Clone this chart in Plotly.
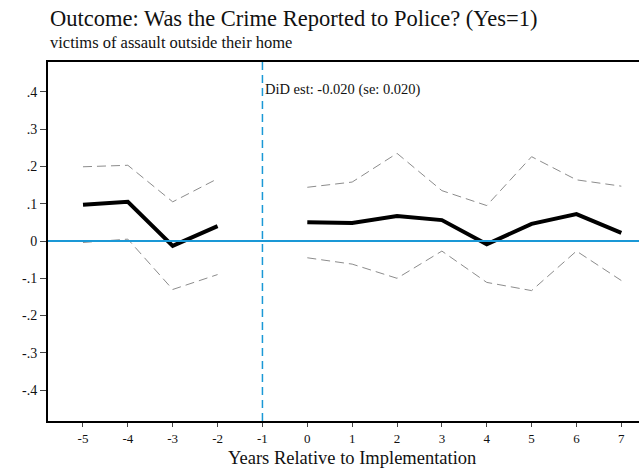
import plotly.graph_objects as go

years = [-5, -4, -3, -2, -1, 0, 1, 2, 3, 4, 5, 6, 7]
estimate = [0.097, 0.105, -0.013, 0.040, None, 0.050, 0.048, 0.067, 0.056, -0.009, 0.046, 0.072, 0.022]
ci_upper = [0.199, 0.203, 0.105, 0.167, None, 0.144, 0.158, 0.235, 0.135, 0.095, 0.226, 0.164, 0.147]
ci_lower = [-0.004, 0.005, -0.130, -0.090, None, -0.045, -0.062, -0.100, -0.027, -0.111, -0.133, -0.027, -0.106]

y_ticks = [-0.4, -0.3, -0.2, -0.1, 0, 0.1, 0.2, 0.3, 0.4]
y_tick_labels = ["-.4", "-.3", "-.2", "-.1", "0", ".1", ".2", ".3", ".4"]
x_ticks = years
x_tick_labels = [str(v) for v in years]

title_text = "Outcome: Was the Crime Reported to Police? (Yes=1)"
subtitle_text = "victims of assault outside their home"
did_text = "DiD est: -0.020 (se: 0.020)"
x_title = "Years Relative to Implementation"

FONT = "Liberation Serif, DejaVu Serif, serif"

fig = go.Figure()

fig.add_trace(go.Scatter(x=years, y=ci_upper, mode="lines",
                         line=dict(color="#8c8c8c", width=1, dash="9px,5px"),
                         connectgaps=False, showlegend=False, hoverinfo="skip"))
fig.add_trace(go.Scatter(x=years, y=ci_lower, mode="lines",
                         line=dict(color="#8c8c8c", width=1, dash="9px,5px"),
                         connectgaps=False, showlegend=False, hoverinfo="skip"))

# reference lines
fig.add_shape(type="line", xref="paper", yref="y", x0=0, x1=1, y0=0, y1=0,
              line=dict(color="#1a98d6", width=2.2), layer="above")
fig.add_shape(type="line", xref="x", yref="paper", x0=-1, x1=-1, y0=0, y1=1,
              line=dict(color="#1a98d6", width=1.5, dash="8px,5px"), layer="above")

fig.add_trace(go.Scatter(x=years, y=estimate, mode="lines",
                         line=dict(color="black", width=4),
                         connectgaps=False, showlegend=False))

fig.add_annotation(x=-0.985, y=0.405, xref="x", yref="y", text=did_text,
                   showarrow=False, xanchor="left", yanchor="middle",
                   font=dict(family=FONT, size=14.5, color="#111"))

fig.add_annotation(x=0.0, y=1.122, xref="paper", yref="paper", text=title_text,
                   showarrow=False, xanchor="left", yanchor="middle",
                   font=dict(family=FONT, size=22.5, color="#111"))
fig.add_annotation(x=0.0, y=1.054, xref="paper", yref="paper", text=subtitle_text,
                   showarrow=False, xanchor="left", yanchor="middle",
                   font=dict(family=FONT, size=16.5, color="#111"))
fig.add_annotation(x=1, y=-0.1031, xref="x", yref="paper", text=x_title,
                   showarrow=False, xanchor="center", yanchor="middle",
                   font=dict(family=FONT, size=18.5, color="#111"))

fig.update_layout(
    width=639, height=469,
    margin=dict(l=48, r=0, t=62, b=48),
    paper_bgcolor="white", plot_bgcolor="white",
    font=dict(family=FONT, size=14, color="#111"),
    showlegend=False,
    xaxis=dict(range=[-5.78, 7.394], tickmode="array", tickvals=x_ticks,
               ticktext=x_tick_labels, showgrid=False, zeroline=False,
               showline=True, linecolor="black", linewidth=2, mirror=True,
               ticks="outside", ticklen=4, tickwidth=1, tickcolor="#444",
               tickfont=dict(family=FONT, size=13, color="#111")),
    yaxis=dict(range=[-0.4826, 0.4799], tickmode="array", tickvals=y_ticks,
               ticktext=y_tick_labels, showgrid=False, zeroline=False,
               showline=True, linecolor="black", linewidth=2, mirror=False,
               ticks="outside", ticklen=6, tickwidth=1, tickcolor="#444",
               tickfont=dict(family=FONT, size=14, color="#111")),
)

fig.write_html("out.html")
